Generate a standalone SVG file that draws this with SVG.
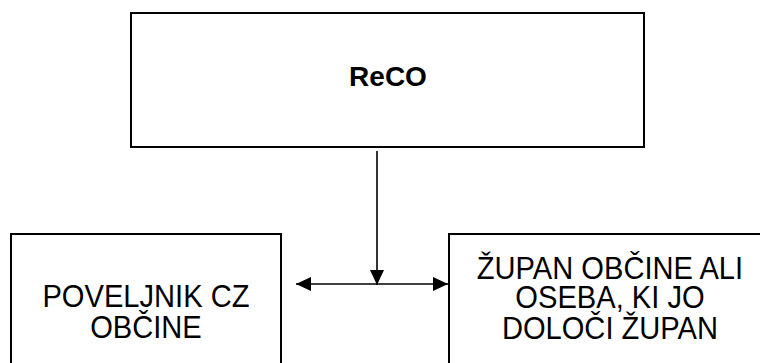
<svg xmlns="http://www.w3.org/2000/svg" width="760" height="363" viewBox="0 0 760 363">
<style>
.box{fill:#fff;stroke:#000;stroke-width:2}
.t{font-family:"Liberation Sans",Arial,sans-serif;font-size:32px;fill:#000;text-anchor:middle}
.b{font-family:"Liberation Sans",Arial,sans-serif;font-size:28px;font-weight:bold;fill:#000;text-anchor:middle}
.c{fill:none;stroke:#000;stroke-width:1.6}
</style>
<defs>
<marker id="ah" viewBox="0 0 15 14" refX="15" refY="7" markerWidth="15" markerHeight="14" markerUnits="userSpaceOnUse" orient="auto-start-reverse">
<path d="M0,0 L15,7 L0,14 Z" fill="#000"/>
</marker>
</defs>
<rect width="760" height="363" fill="#fff"/>
<g id="reco">
<rect class="box" x="131" y="13" width="513" height="134"/>
<text class="b" x="388" y="86">ReCO</text>
</g>
<g id="poveljnik">
<rect class="box" x="11" y="234" width="270" height="140"/>
<g transform="scale(0.91,1)">
<text class="t" x="160.4" y="307">POVELJNIK CZ</text>
<text class="t" x="160.4" y="338.5">OBČINE</text>
</g>
</g>
<g id="zupan">
<rect class="box" x="449" y="234" width="330" height="140"/>
<g transform="scale(0.91,1)">
<text class="t" x="670.3" y="279">ŽUPAN OBČINE ALI</text>
<text class="t" x="670.3" y="308.5">OSEBA, KI JO</text>
<text class="t" x="670.3" y="339">DOLOČI ŽUPAN</text>
</g>
</g>
<g id="connectors">
<line class="c" x1="377" y1="151" x2="377" y2="285" marker-end="url(#ah)"/>
<line class="c" x1="296" y1="284" x2="448" y2="284" marker-start="url(#ah)" marker-end="url(#ah)"/>
</g>
</svg>
